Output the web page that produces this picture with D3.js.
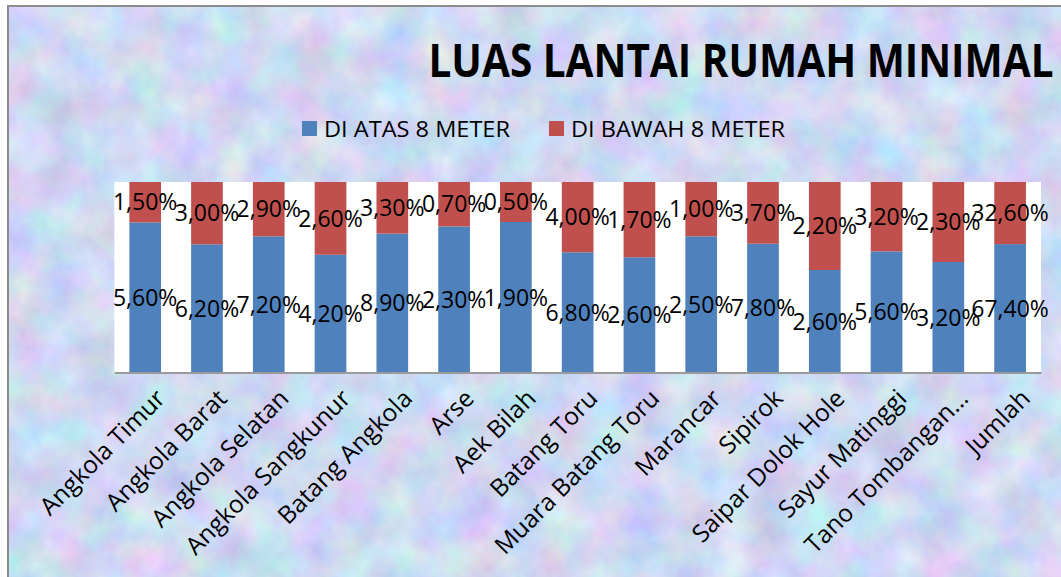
<!DOCTYPE html>
<html>
<head>
<meta charset="utf-8">
<script src="https://cdn.jsdelivr.net/npm/d3@7"></script>
<style>
  html, body { margin: 0; padding: 0; background: #fff; }
  svg { display: block; }
  text { font-family: "Open Sans", sans-serif; fill: #000; }
</style>
</head>
<body>
<svg id="chart" width="1061" height="577"></svg>
<script>
// data (bar heights as percent, labels as they show)
const categories = ["Angkola Timur", "Angkola Barat", "Angkola Selatan", "Angkola Sangkunur",
  "Batang Angkola", "Arse", "Aek Bilah", "Batang Toru", "Muara Batang Toru", "Marancar",
  "Sipirok", "Saipar Dolok Hole", "Sayur Matinggi", "Tano Tombangan…", "Jumlah"]
const diAtas = [78.8, 67.3, 71.5, 61.8, 72.9, 76.7, 79.0, 63.1, 60.5, 71.5, 67.6, 53.8, 63.6, 58.0, 67.4]
const diBawah = [21.2, 32.7, 28.5, 38.2, 27.1, 23.3, 21.0, 36.9, 39.5, 28.5, 32.4, 46.2, 36.4, 42.0, 32.6]
const labelAtas = ["5,60%", "6,20%", "7,20%", "4,20%", "8,90%", "2,30%", "1,90%", "6,80%",
  "2,60%", "2,50%", "7,80%", "2,60%", "5,60%", "3,20%", "67,40%"]
const labelBawah = ["1,50%", "3,00%", "2,90%", "2,60%", "3,30%", "0,70%", "0,50%", "4,00%",
  "1,70%", "1,00%", "3,70%", "2,20%", "3,20%", "2,30%", "32,60%"]
const seriesKeys = ["atas", "bawah"]
const seriesNames = ["DI ATAS 8 METER", "DI BAWAH 8 METER"]
const seriesColors = ["#4F81BD", "#C0504D"]
const title = "LUAS LANTAI RUMAH MINIMAL"

const svg = d3.select("#chart")

// textured light blue background, like the office "paper" fill
const defs = svg.append("defs")
const filt = defs.append("filter").attr("id", "tex")
  .attr("x", 0).attr("y", 0).attr("width", "100%").attr("height", "100%")
  .attr("color-interpolation-filters", "sRGB")
filt.append("feTurbulence").attr("type", "fractalNoise")
  .attr("baseFrequency", 0.024).attr("numOctaves", 5).attr("seed", 7)
filt.append("feColorMatrix").attr("type", "matrix")
  .attr("values", "0.3 0 0 0 0.66  0 0.26 0 0 0.72  0 0 0.16 0 0.87  0 0 0 0 1")

svg.append("rect")
  .attr("x", 8).attr("y", 6).attr("width", 1100).attr("height", 620)
  .attr("filter", "url(#tex)")
svg.append("rect")
  .attr("x", 8).attr("y", 6).attr("width", 1100).attr("height", 620)
  .attr("fill", "none").attr("stroke", "#8c8c8c").attr("stroke-width", 2)

const plot = { left: 114.3, right: 1041, top: 182, bottom: 372.5 }

svg.append("rect")
  .attr("x", plot.left).attr("y", plot.top)
  .attr("width", plot.right - plot.left).attr("height", plot.bottom - plot.top)
  .attr("fill", "#fff")

const rows = categories.map((c, i) => ({ cat: c, atas: diAtas[i], bawah: diBawah[i] }))
const stacked = d3.stack().keys(seriesKeys).offset(d3.stackOffsetExpand)(rows)

const x = d3.scaleBand()
  .domain(categories)
  .range([plot.left, plot.right])
  .paddingInner(0.487)
  .paddingOuter(0.2435)

const y = d3.scaleLinear().domain([0, 1]).range([plot.bottom, plot.top])

svg.append("g")
  .selectAll("g")
  .data(stacked)
  .join("g")
  .attr("fill", (d, i) => seriesColors[i])
  .selectAll("rect")
  .data(d => d)
  .join("rect")
  .attr("x", d => x(d.data.cat))
  .attr("width", x.bandwidth())
  .attr("y", d => y(d[1]))
  .attr("height", d => y(d[0]) - y(d[1]))

// axis line + rotated category names
const xAxis = svg.append("g")
  .attr("transform", `translate(0,${plot.bottom})`)
  .call(d3.axisBottom(x).tickSize(0).tickSizeOuter(0))
xAxis.select(".domain").attr("stroke", "#9a9a9a").attr("stroke-width", 2)
xAxis.selectAll("text")
  .attr("font-family", "Open Sans")
  .attr("font-size", 24.5)
  .attr("fill", "#000")
  .attr("text-anchor", "end")
  .attr("x", 0).attr("y", 0).attr("dy", "0.72em")
  .attr("transform", "translate(9,15) rotate(-45)")

// data labels, centered in each segment
const labelSets = [labelAtas, labelBawah]
const lab = svg.append("g")
categories.forEach((c, i) => {
  stacked.forEach((s, k) => {
    const d = s[i]
    lab.append("text")
      .attr("x", x(c) + x.bandwidth() / 2)
      .attr("y", (y(d[0]) + y(d[1])) / 2)
      .attr("dy", "0.36em")
      .attr("text-anchor", "middle")
      .attr("font-size", 23)
      .text(labelSets[k][i])
  })
})

// legend
const legend = svg.append("g")
const legendX = [302, 549]
const legendW = [186, 214]
seriesNames.forEach((name, i) => {
  legend.append("rect")
    .attr("x", legendX[i]).attr("y", 121)
    .attr("width", 15).attr("height", 15)
    .attr("fill", seriesColors[i])
  legend.append("text")
    .attr("x", legendX[i] + 22).attr("y", 136.6)
    .attr("font-size", 21.7)
    .attr("textLength", legendW[i])
    .attr("lengthAdjust", "spacingAndGlyphs")
    .text(name)
})

// title
svg.append("text")
  .attr("x", 428.5).attr("y", 76.8)
  .attr("font-size", 46.5)
  .attr("font-weight", "bold")
  .attr("textLength", 625)
  .attr("lengthAdjust", "spacingAndGlyphs")
  .text(title)
</script>
</body>
</html>
